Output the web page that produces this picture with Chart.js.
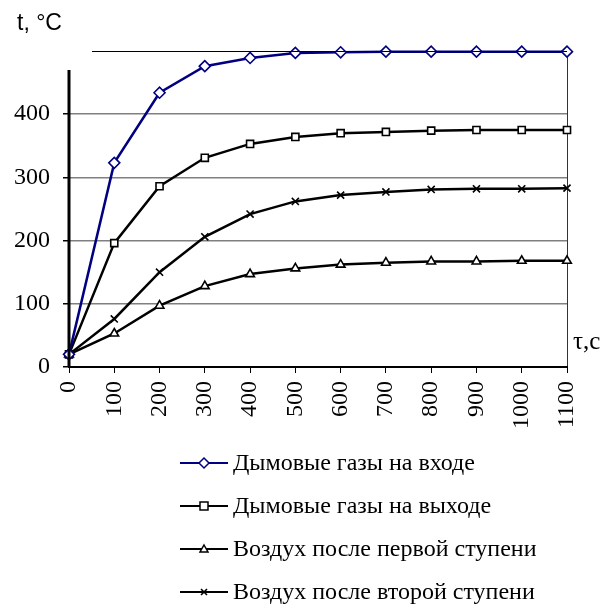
<!DOCTYPE html>
<html>
<head>
<meta charset="utf-8">
<script src="https://cdn.jsdelivr.net/npm/chart.js@4"></script>
<style>
  body { margin: 0; background: #fff; }
  #wrap { position: relative; width: 613px; height: 609px; }
  #legend { position: absolute; left: 180px; top: 441px; font-family: "Liberation Serif", serif; font-size: 24px; color: #000; }
  .item { height: 43px; display: flex; align-items: center; margin-top: 0; }
  .item svg { margin-right: 5px; }
</style>
</head>
<body>
<div id="wrap">
  <canvas id="chart" width="613" height="609"></canvas>
  <div id="legend"></div>
</div>
<script>
// time, s
const times = [0, 100, 200, 300, 400, 500, 600, 700, 800, 900, 1000, 1100];

// temperatures, °C
const gasIn = [20, 323, 434, 476, 489, 497, 498, 499, 499, 499, 499, 499];
const gasOut = [20, 196, 286, 331, 353, 364, 370, 372, 374, 375, 375, 375];
const airStage1 = [20, 53, 97, 128, 147, 156, 162, 165, 167, 167, 168, 168];
const airStage2 = [20, 76, 150, 206, 242, 262, 272, 277, 281, 282, 282, 283];

const seriesNames = [
    'Дымовые газы на входе',
    'Дымовые газы на выходе',
    'Воздух после первой ступени',
    'Воздух после второй ступени'
];
const yTicks = [0, 100, 200, 300, 400, 500];

const NAVY = '#000080';
const toPts = arr => arr.map((v, i) => ({ x: times[i], y: v }));

function ds(label, data, color, style, radius) {
    return {
        label: label,
        data: toPts(data),
        borderColor: color,
        backgroundColor: '#fff',
        borderWidth: 2.5,
        pointStyle: style,
        pointRadius: radius,
        pointBorderColor: color,
        pointBackgroundColor: '#fff',
        pointBorderWidth: 1.6,
        tension: 0,
        clip: false
    };
}

// axis decorations: top line, left axis line, axis captions
const decor = {
    id: 'decor',
    afterDraw(chart) {
        const { ctx, chartArea } = chart;
        const y = chart.scales.y;
        ctx.save();
        // top line at 500
        ctx.strokeStyle = '#000';
        ctx.lineWidth = 1;
        const yTop = Math.round(y.getPixelForValue(500)) + 0.5;
        ctx.beginPath();
        ctx.moveTo(chartArea.left + 23, yTop);
        ctx.lineTo(chartArea.right, yTop);
        ctx.stroke();
        // left axis
        ctx.lineWidth = 3;
        ctx.beginPath();
        ctx.moveTo(chartArea.left, y.getPixelForValue(0));
        ctx.lineTo(chartArea.left, y.getPixelForValue(470));
        ctx.stroke();
        // captions
        ctx.fillStyle = '#000';
        ctx.font = '23px "Liberation Sans", Arial, sans-serif';
        ctx.textBaseline = 'alphabetic';
        ctx.fillText('t, °C', 17, 30);
        ctx.font = '25px "Liberation Serif", serif';
        ctx.fillText('τ,c', 573, 349);
        ctx.restore();
    }
};

new Chart(document.getElementById('chart'), {
    type: 'line',
    data: {
        datasets: [
            ds(seriesNames[0], gasIn, NAVY, 'rectRot', 5.5),
            ds(seriesNames[1], gasOut, '#000', 'rect', 5),
            ds(seriesNames[2], airStage1, '#000', 'triangle', 5),
            ds(seriesNames[3], airStage2, '#000', 'crossRot', 5)
        ]
    },
    options: {
        responsive: false,
        animation: false,
        layout: { padding: { left: 0, right: 46, top: 51, bottom: 172 } },
        plugins: { legend: { display: false }, tooltip: { enabled: false } },
        scales: {
            x: {
                type: 'linear',
                min: 0,
                max: 1100,
                afterFit: s => { s.height = 70; },
                afterBuildTicks: s => { s.ticks = times.map(v => ({ value: v })); },
                ticks: {
                    minRotation: 90,
                    maxRotation: 90,
                    padding: 8,
                    color: '#000',
                    font: { family: '"Liberation Serif", serif', size: 24 },
                    callback: v => String(v)
                },
                grid: {
                    color: c => (c.tick && c.tick.value === 1100) ? '#333' : 'rgba(0,0,0,0)',
                    tickColor: '#000',
                    tickLength: 6,
                    lineWidth: 1
                },
                border: { color: '#000', width: 2 }
            },
            y: {
                min: 0,
                max: 500,
                afterFit: s => { s.width = 69; },
                afterBuildTicks: s => { s.ticks = yTicks.map(v => ({ value: v })); },
                ticks: {
                    padding: 13,
                    color: '#000',
                    font: { family: '"Liberation Serif", serif', size: 24 },
                    callback: v => v === 500 ? '' : String(v)
                },
                grid: {
                    color: c => (c.tick && (c.tick.value === 0 || c.tick.value === 500)) ? 'rgba(0,0,0,0)' : '#808080',
                    tickColor: c => (c.tick && c.tick.value === 500) ? 'rgba(0,0,0,0)' : '#000',
                    tickLength: 6,
                    lineWidth: 1.5
                },
                border: { display: false }
            }
        }
    },
    plugins: [decor]
});

// legend (HTML, line + marker sample)
const markers = [
    c => `<path d="M24 3 L29 8 L24 13 L19 8 Z" fill="#fff" stroke="${c}" stroke-width="1.5"/>`,
    c => `<rect x="20" y="4" width="8" height="8" fill="#fff" stroke="${c}" stroke-width="1.5"/>`,
    c => `<path d="M24 4 L28 11 L20 11 Z" fill="#fff" stroke="${c}" stroke-width="1.5"/>`,
    c => `<path d="M21 5 L27 11 M27 5 L21 11" stroke="${c}" stroke-width="1.6"/>`
];
const colors = [NAVY, '#000', '#000', '#000'];
document.getElementById('legend').innerHTML = seriesNames.map((name, i) =>
    `<div class="item"><svg width="48" height="16"><line x1="0" y1="8" x2="48" y2="8" stroke="${colors[i]}" stroke-width="2"/>${markers[i](colors[i])}</svg><span>${name}</span></div>`
).join('');
</script>
</body>
</html>
